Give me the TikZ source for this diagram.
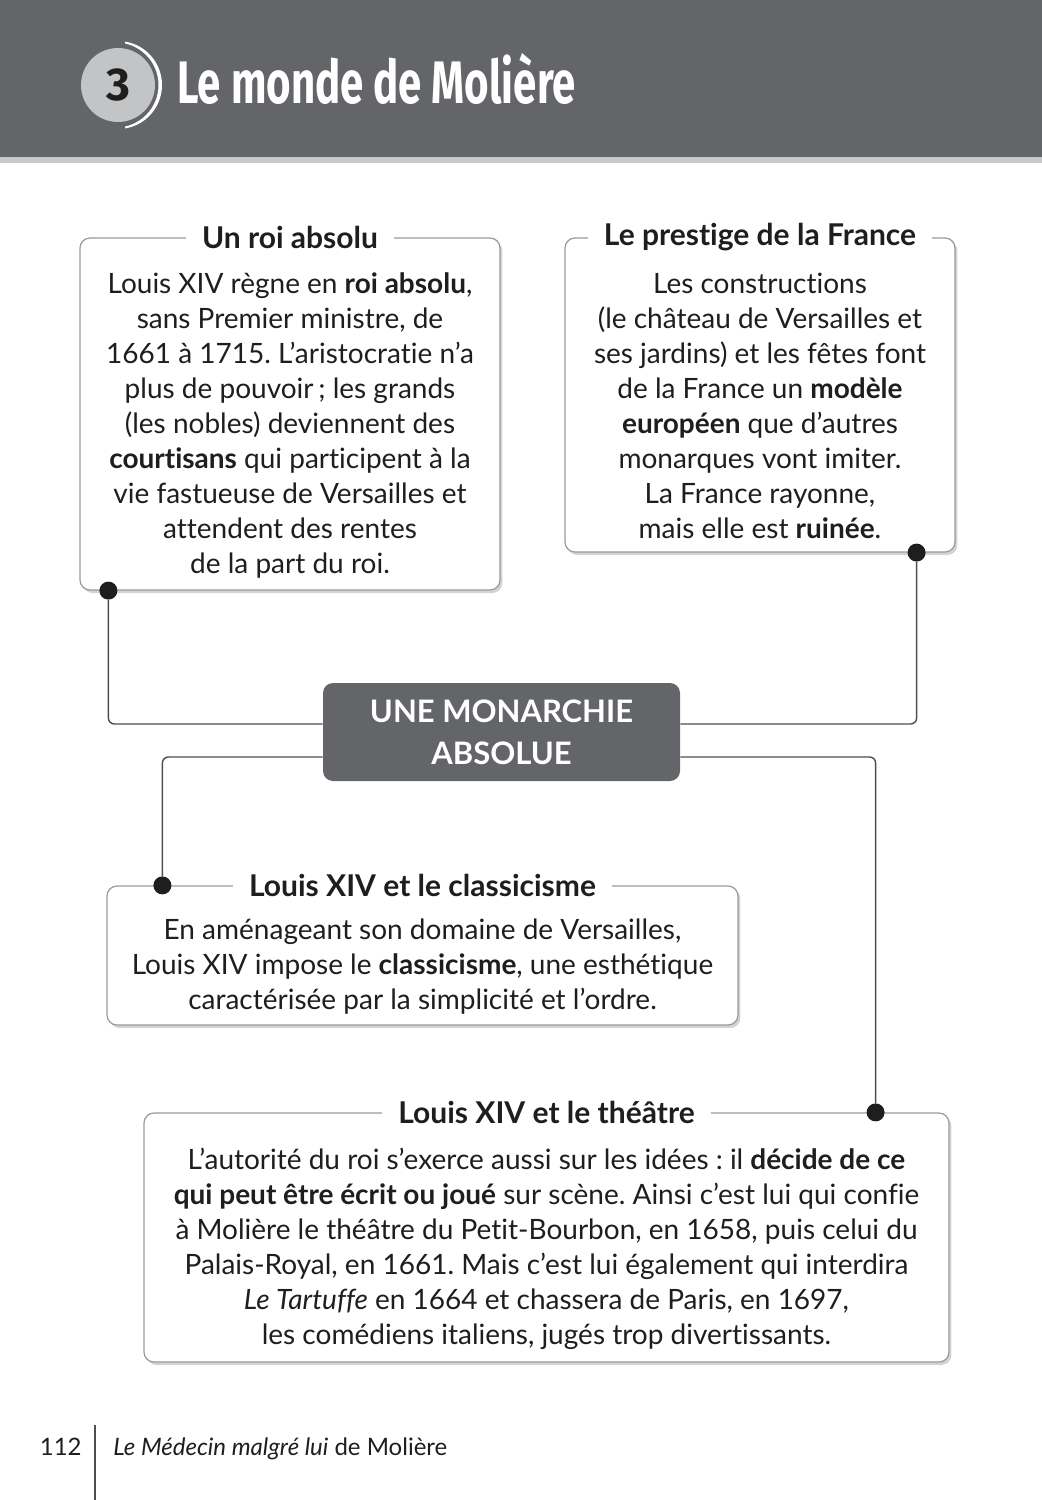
\documentclass[tikz,border=0pt]{standalone}
\usepackage{fontspec}
\setmainfont[Ligatures={NoCommon}]{Lato}
\newfontfamily\titlefont[FakeStretch=0.70]{Fira Sans}
\newfontfamily\numfont{Fira Sans}
\usetikzlibrary{shadows}
\definecolor{slate}{HTML}{646569}
\definecolor{stripe}{HTML}{C8C9CB}
\definecolor{disc}{HTML}{C3C4C6}
\definecolor{frame}{HTML}{9A9A9A}
\definecolor{wire}{HTML}{4D4D4D}
\definecolor{ink}{HTML}{1E1E1E}
\frenchspacing

\begin{document}
\begin{tikzpicture}[
    x=0.5pt, y=-0.5pt,
    infobox/.style={draw=frame, line width=0.6pt, rounded corners=5pt, fill=white,
        drop shadow={opacity=0.35, shadow xshift=1.2pt, shadow yshift=-1.5pt}},
    boxtitle/.style={fill=white, inner xsep=8pt, inner ysep=1pt, text=ink,
        font=\fontsize{15}{17}\selectfont\bfseries},
    bodytext/.style={align=center, text=ink, font=\fontsize{14}{17.5}\selectfont},
    hub/.style={fill=slate, rounded corners=5pt, minimum width=178.5pt, minimum height=49pt,
        align=center, text=white, font=\fontsize{15.5}{21}\selectfont\bfseries},
    dot/.style={circle, fill=ink, inner sep=0pt, minimum size=9pt},
    link/.style={draw=wire, line width=0.7pt, rounded corners=3pt},
]
\useasboundingbox (0,0) rectangle (1042,1500);

% Header band
\fill[slate] (0,0) rectangle (1042,157);
\fill[stripe] (0,157) rectangle (1042,163);
\node[circle, fill=disc, minimum size=37pt, inner sep=0pt, text=ink,
    font=\numfont\bfseries\fontsize{23}{23}\selectfont] (num) at (118,85) {3};
\begin{scope}
    \clip (125,30) rectangle (175,140);
    \fill[white, even odd rule] (118,85) circle (44) (116,85) circle (42.5);
\end{scope}
\node[anchor=base west, inner sep=0pt, text=white,
    font=\titlefont\bfseries\fontsize{30}{30}\selectfont] (title) at (177,103) {Le monde de Molière};

% Un roi absolu
\node[infobox, minimum width=210pt, minimum height=176pt] (roi) at (290,414) {};
\node[bodytext] (roitxt) at ([yshift=-5.5pt]roi.center) {
    Louis XIV règne en \textbf{roi absolu},\\
    sans Premier ministre, de\\
    1661 à 1715. L’aristocratie n’a\\
    plus de pouvoir\,; les grands\\
    (les nobles) deviennent des\\
    \textbf{courtisans} qui participent à la\\
    vie fastueuse de Versailles et\\
    attendent des rentes\\
    de la part du roi.
};
\node[boxtitle] (roititle) at (roi.north) {Un roi absolu};

% Le prestige de la France
\node[infobox, minimum width=195pt, minimum height=157pt] (prestige) at (760,395) {};
\node[bodytext] (prestigetxt) at ([yshift=-5.5pt]prestige.center) {
    Les constructions\\
    (le château de Versailles et\\
    ses jardins) et les fêtes font\\
    de la France un \textbf{modèle}\\
    \textbf{européen} que d’autres\\
    monarques vont imiter.\\
    La France rayonne,\\
    mais elle est \textbf{ruinée}.
};
\node[boxtitle] (prestigetitle) at (prestige.north) {Le prestige de la France};

% Centre
\node[hub] (hub) at (501.5,732) {UNE MONARCHIE\\ABSOLUE};

% Louis XIV et le classicisme
\node[infobox, minimum width=315.5pt, minimum height=69.5pt] (classic) at (422.5,955.5) {};
\node[bodytext] (classictxt) at ([yshift=-5.5pt]classic.center) {
    En aménageant son domaine de Versailles,\\
    Louis XIV impose le \textbf{classicisme}, une esthétique\\
    caractérisée par la simplicité et l’ordre.
};
\node[boxtitle] (classictitle) at (classic.north) {Louis XIV et le classicisme};

% Louis XIV et le theatre
\node[infobox, minimum width=402.5pt, minimum height=124.5pt] (theatre) at (546.5,1237.5) {};
\node[bodytext] (theatretxt) at ([yshift=-5.5pt]theatre.center) {
    L’autorité du roi s’exerce aussi sur les idées : il \textbf{décide de ce}\\
    \textbf{qui peut être écrit ou joué} sur scène. Ainsi c’est lui qui confie\\
    à Molière le théâtre du Petit-Bourbon, en 1658, puis celui du\\
    Palais-Royal, en 1661. Mais c’est lui également qui interdira\\
    \textit{Le Tartuffe} en 1664 et chassera de Paris, en 1697,\\
    les comédiens italiens, jugés trop divertissants.
};
\node[boxtitle] (theatretitle) at (theatre.north) {Louis XIV et le théâtre};

% Dots
\node[dot] (d1) at ([xshift=14.5pt]roi.south west) {};
\node[dot] (d2) at ([xshift=-19.5pt]prestige.south east) {};
\node[dot] (d3) at ([xshift=28pt]classic.north west) {};
\node[dot] (d4) at ([xshift=-37pt]theatre.north east) {};

% Connectors
\draw[link] (d1) |- ([yshift=4pt]hub.west);
\draw[link] (d2) |- ([yshift=4pt]hub.east);
\draw[link] ([yshift=-12.5pt]hub.west) -| (d3);
\draw[link] ([yshift=-12.5pt]hub.east) -| (d4);

% Footer
\node[anchor=base east, inner sep=0pt, text=ink, font=\fontsize{12}{14}\selectfont] (page) at (82,1455) {112};
\draw[wire, line width=0.6pt] (95,1425) -- (95,1500);
\node[anchor=base west, inner sep=0pt, text=ink, font=\fontsize{12}{14}\selectfont] (book) at (113,1455)
    {\textit{Le Médecin malgré lui} de Molière};

\end{tikzpicture}
\end{document}
